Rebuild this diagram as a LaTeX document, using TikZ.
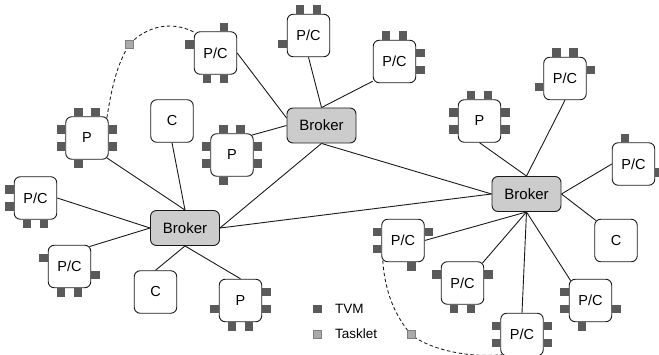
\documentclass[tikz,border=0pt]{standalone}
\usepackage{fontspec}
\setmainfont{Liberation Sans}
\usetikzlibrary{calc,backgrounds}
\definecolor{tvmc}{HTML}{5A5A5A}
\definecolor{taskc}{HTML}{AAAAAA}
\definecolor{taskb}{HTML}{808080}
\definecolor{brokc}{HTML}{CCCCCC}
\definecolor{edgec}{HTML}{1A1A1A}
\newcommand\tvT[2]{\node[tvmsq] at ($(#1.north)+(#2*8.5,-4.25)$) {};}
\newcommand\tvB[2]{\node[tvmsq] at ($(#1.south)+(#2*8.5,4.25)$) {};}
\newcommand\tvL[2]{\node[tvmsq] at ($(#1.west)+(-4.25,#2*8.5)$) {};}
\newcommand\tvR[2]{\node[tvmsq] at ($(#1.east)+(4.25,#2*8.5)$) {};}
\begin{document}
\begin{tikzpicture}[x=1pt,y=-1pt,
  box/.style={draw=edgec, line width=0.9pt, fill=white, rounded corners=6pt, minimum width=42.5pt, minimum height=42.5pt, inner sep=0pt, font=\fontsize{14.5}{17}\selectfont},
  broker/.style={box, fill=brokc, minimum width=69pt, minimum height=35pt, font=\fontsize{15}{18}\selectfont},
  tvmsq/.style={fill=tvmc, minimum size=8.6pt, inner sep=0pt, draw=none},
  tasksq/.style={fill=taskc, draw=taskb, line width=0.5pt, minimum size=8pt, inner sep=0pt},
  link/.style={line width=0.9pt, draw=edgec},
  taskline/.style={line width=0.85pt, draw=edgec, dash pattern=on 3.5pt off 2.5pt},
  legtext/.style={anchor=west, inner sep=0pt, font=\fontsize{13.5}{16}\selectfont}
]
\useasboundingbox (0,0) rectangle (659,355);

\node[box] (pc1) at (215.5,53) {P/C};
\node[box] (pc2) at (308.5,35.5) {P/C};
\node[box] (p3) at (87,138) {P};
\node[box] (c4) at (172,121) {C};
\node[box] (p5) at (232,155) {P};
\node[broker] (b6) at (321.5,125.5) {Broker};
\node[box] (pc7) at (394.5,61.5) {P/C};
\node[box] (p8) at (479.5,121) {P};
\node[box] (pc9) at (565,78.5) {P/C};
\node[box] (pc10) at (633.5,164) {P/C};
\node[broker] (b11) at (526.5,194) {Broker};
\node[box] (c12) at (616,240.5) {C};
\node[box] (pc13) at (403,240.5) {P/C};
\node[box] (pc14) at (462.5,283) {P/C};
\node[box] (pc15) at (522,334.5) {P/C};
\node[box] (pc16) at (590.5,300.5) {P/C};
\node[broker] (b17) at (185,228) {Broker};
\node[box] (pc18) at (35.5,198) {P/C};
\node[box] (pc19) at (69.5,266.5) {P/C};
\node[box] (c20) at (155.5,292) {C};
\node[box] (p21) at (240.5,300.5) {P};

\tvT{pc1}{1} \tvL{pc1}{-1} \tvB{pc1}{-1} \tvB{pc1}{1}
\tvT{pc2}{-1} \tvT{pc2}{1} \tvL{pc2}{1}
\tvT{p3}{-1} \tvT{p3}{1} \tvL{p3}{-1} \tvL{p3}{1} \tvR{p3}{-1} \tvR{p3}{1} \tvB{p3}{-1}
\tvT{p5}{-1} \tvT{p5}{1} \tvL{p5}{-1} \tvL{p5}{1} \tvR{p5}{-1} \tvR{p5}{1} \tvB{p5}{-1}
\tvT{pc7}{-1} \tvT{pc7}{1} \tvR{pc7}{-1} \tvR{pc7}{1}
\tvT{p8}{-1} \tvT{p8}{1} \tvL{p8}{-1} \tvL{p8}{1} \tvR{p8}{-1} \tvR{p8}{1}
\tvT{pc9}{-1} \tvT{pc9}{1} \tvR{pc9}{-1} \tvL{pc9}{1}
\tvT{pc10}{-1} \tvR{pc10}{1}
\tvL{pc13}{-1} \tvL{pc13}{1} \tvR{pc13}{-1} \tvB{pc13}{1}
\tvL{pc14}{-1} \tvR{pc14}{-1} \tvB{pc14}{-1} \tvB{pc14}{1}
\tvL{pc15}{-1} \tvL{pc15}{1} \tvR{pc15}{-1} \tvR{pc15}{1}
\tvL{pc16}{-1} \tvL{pc16}{1} \tvR{pc16}{1} \tvB{pc16}{-1}
\tvL{pc18}{-1} \tvL{pc18}{1} \tvB{pc18}{-1} \tvB{pc18}{1}
\tvL{pc19}{-1} \tvR{pc19}{1} \tvB{pc19}{-1} \tvB{pc19}{1}
\tvL{p21}{1} \tvR{p21}{-1} \tvR{p21}{1} \tvB{p21}{-1} \tvB{p21}{1}

\node[tasksq] (t1) at (129.5,44.5) {};
\node[tasksq] (t2) at (411,334.5) {};

\node[tvmsq] (lt) at (317.5,309) {};
\node[legtext] (ltx) at (335,309) {TVM};
\node[tasksq] (lk) at (317.5,334) {};
\node[legtext] (lkx) at (335,334) {Tasklet};

\begin{scope}[on background layer]
\draw[link] (pc1.east) -- ($(b6.west)+(0,-7.5)$);
\draw[link] (pc2.south) -- (b6.north);
\draw[link] ($(pc7.south west)+(0,-2)$) -- (b6.north);
\draw[link] ($(p5.north east)+(-1.8,1.8)$) -- (b6.west);
\draw[link] (b6.south) -- (b17.east);
\draw[link] (b6.south) -- (b11.west);
\draw[link] (b17.east) -- (b11.west);
\draw[link] (c4.south) -- (b17.north);
\draw[link] ($(p3.south east)+(-1.8,-1.8)$) -- (b17.north);
\draw[link] (pc18.east) -- (b17.west);
\draw[link] ($(pc19.north east)+(-1.8,1.8)$) -- (b17.west);
\draw[link] (c20.north) -- (b17.south);
\draw[link] (p21.north) -- (b17.south);
\draw[link] (p8.south) -- (b11.north);
\draw[link] (pc9.south) -- (b11.north);
\draw[link] (pc10.west) -- (b11.east);
\draw[link] ($(c12.north west)+(1.8,1.8)$) -- (b11.east);
\draw[link] (b11.south) -- (pc13.east);
\draw[link] (b11.south) -- ($(pc14.north east)+(-1.8,1.8)$);
\draw[link] (b11.south) -- (pc15.north);
\draw[link] (b11.south) -- ($(pc16.north west)+(1.8,1.8)$);
\draw[taskline] ($(p3.north east)+(-1.8,1.5)$) .. controls (112,85) and (118,62) .. (t1.center)
  .. controls (142,30) and (168,18) .. ($(pc1.north west)+(1.5,1.5)$);
\draw[taskline] ($(pc13.south west)+(1.5,-1.5)$) .. controls (385,295) and (397,318) .. (t2.center)
  .. controls (430,350) and (470,358) .. ($(pc15.south west)+(1.5,-1.5)$);
\end{scope}
\end{tikzpicture}
\end{document}
